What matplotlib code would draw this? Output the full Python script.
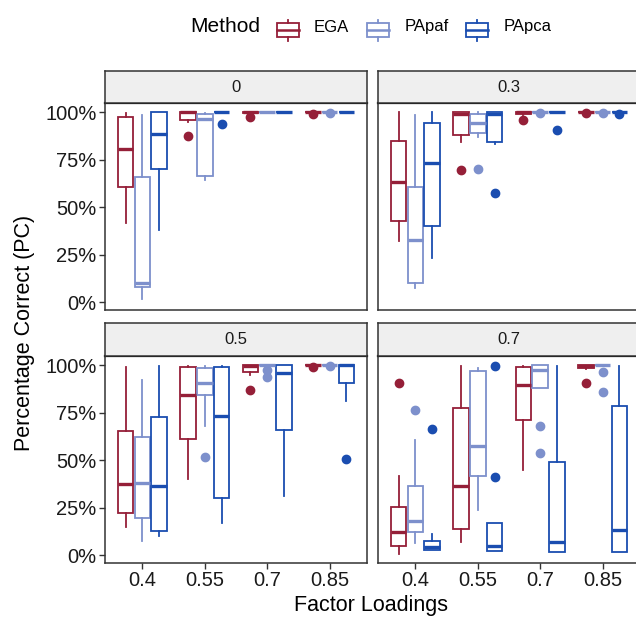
import numpy as np
import matplotlib.pyplot as plt
from matplotlib.patches import Rectangle

plt.rcParams['font.family'] = ['Liberation Sans', 'DejaVu Sans']

facets = ['0', '0.3', '0.5', '0.7']
loadings = ['0.4', '0.55', '0.7', '0.85']
methods = ['EGA', 'PApaf', 'PApca']
colors = ['#951f38', '#7d90cc', '#1a4db0']

# box stats: (whislo, q1, med, q3, whishi), facet x loading
ega_stats = [
    [(41.8, 60.6, 80.6, 97.4, 99.5), (94.7, 95.9, 100, 100, 100), (98.5, 99.3, 100, 100, 100), (100, 100, 100, 100, 100)],
    [(32.1, 42.7, 63.3, 85.0, 100), (84.4, 88.0, 99.0, 100, 100), (98.5, 99.0, 100, 100, 100), (100, 100, 100, 100, 100)],
    [(14.5, 22.3, 37.2, 65.1, 99.1), (39.8, 61.3, 84.3, 98.8, 99.5), (94.8, 96.5, 99.5, 100, 100), (100, 100, 100, 100, 100)],
    [(0.5, 4.5, 12.2, 25.5, 41.5), (6.6, 13.6, 36.3, 77.3, 99.5), (45.0, 71.2, 89.5, 99.0, 99.5), (98.0, 98.3, 99.7, 100, 100)],
]
ega_out = [
    [[], [87.5], [97.3], [99.0]],
    [[], [69.5], [95.6], [99.3]],
    [[], [], [86.9], [98.8]],
    [[90.4], [], [], [90.4]],
]

papaf_stats = [
    [(1.6, 7.7, 10.2, 65.6, 98.6), (64.2, 66.5, 96.3, 98.9, 99.5), (100, 100, 100, 100, 100), (100, 100, 100, 100, 100)],
    [(7.4, 9.9, 32.4, 60.6, 98.6), (87.1, 88.9, 94.2, 98.9, 100), (100, 100, 100, 100, 100), (100, 100, 100, 100, 100)],
    [(7.5, 19.4, 37.7, 61.9, 92.1), (68.1, 84.3, 90.7, 98.3, 99.5), (98.5, 100, 100, 100, 100), (100, 100, 100, 100, 100)],
    [(6.3, 12.2, 18.0, 36.3, 60.7), (23.7, 41.5, 57.6, 96.9, 98.3), (88.1, 88.1, 97.4, 100, 100), (100, 100, 100, 100, 100)],
]
papaf_out = [
    [[], [], [], [99.6]],
    [[], [69.8], [99.3], [99.6]],
    [[], [51.7], [97.3, 93.6], [99.4]],
    [[76.4], [], [68.1, 53.8], [96.2, 86.0]],
]

papca_stats = [
    [(37.7, 70.2, 88.4, 100, 100), (100, 100, 100, 100, 100), (100, 100, 100, 100, 100), (100, 100, 100, 100, 100)],
    [(23.1, 39.8, 73.3, 94.5, 100), (83.2, 84.1, 99.0, 100, 100), (100, 100, 100, 100, 100), (100, 100, 100, 100, 100)],
    [(10.1, 12.9, 36.3, 72.6, 99.5), (16.6, 30.0, 73.3, 99.1, 99.5), (31.0, 66.0, 96.0, 100, 100), (81.3, 90.4, 100, 100, 100)],
    [(2.8, 2.8, 4.0, 7.2, 11.0), (2.3, 2.3, 4.5, 16.6, 16.6), (1.4, 1.4, 7.0, 48.9, 99.5), (1.4, 1.4, 13.1, 78.7, 99.5)],
]
papca_out = [
    [[], [94.0], [], []],
    [[], [57.5], [90.6], [98.9]],
    [[], [], [], [50.6]],
    [[66.3], [99.5, 41.2], [], []],
]

all_stats = [ega_stats, papaf_stats, papca_stats]
all_out = [ega_out, papaf_out, papca_out]

W, H = 636, 620
fig = plt.figure(figsize=(W / 100, H / 100), dpi=100)


def rect(x0, y0, x1, y1):
    return [x0 / W, 1 - y1 / H, (x1 - x0) / W, (y1 - y0) / H]


cols = [(105, 367), (378, 640)]
rows = [(71, 103, 310), (323, 356, 563)]
offsets = [-0.27, 0.0, 0.27]
grey = '#333333'

for f in range(4):
    r, c = divmod(f, 2)
    x0, x1 = cols[c]
    s0, p0, p1 = rows[r]

    ax = fig.add_axes(rect(x0, p0, x1, p1))
    for m in range(3):
        col = colors[m]
        stats = []
        for k in range(4):
            lo, q1, med, q3, hi = all_stats[m][f][k]
            stats.append(dict(whislo=lo, q1=q1, med=med, q3=q3, whishi=hi,
                              fliers=all_out[m][f][k]))
        ax.bxp(stats, positions=np.arange(1, 5) + offsets[m], widths=0.25,
               showcaps=False, patch_artist=True, manage_ticks=False,
               boxprops=dict(facecolor='white', edgecolor=col, linewidth=1.3),
               whiskerprops=dict(color=col, linewidth=1.3),
               medianprops=dict(color=col, linewidth=2.4),
               flierprops=dict(marker='o', markerfacecolor=col, markeredgecolor=col,
                               markersize=6))
    ax.set_xlim(0.4, 4.6)
    ax.set_ylim(-4.2, 104.8)
    for sp in ax.spines.values():
        sp.set_color(grey)
        sp.set_linewidth(1.1)
    ax.spines['top'].set_color('black')
    ax.spines['top'].set_linewidth(1.6)
    ax.set_xticks(np.arange(1, 5))
    ax.set_yticks([0, 25, 50, 75, 100])
    ax.tick_params(length=4, width=1, color=grey, labelsize=14.5, labelcolor='#1a1a1a', pad=2)
    if c == 0:
        ax.set_yticklabels(['0%', '25%', '50%', '75%', '100%'])
    else:
        ax.tick_params(axis='y', length=0, labelleft=False)
    if r == 1:
        ax.set_xticklabels(loadings)
    else:
        ax.tick_params(axis='x', length=0, labelbottom=False)

    sax = fig.add_axes(rect(x0, s0, x1, p0))
    sax.set_facecolor('#efefef')
    sax.set_xticks([])
    sax.set_yticks([])
    for sp in sax.spines.values():
        sp.set_color(grey)
        sp.set_linewidth(1.1)
    sax.text(0.5, 0.5, facets[f], ha='center', va='center', fontsize=12,
             color='#1a1a1a', transform=sax.transAxes)

fig.text(25 / W, 1 - 333 / H, 'Percentage Correct (PC)', rotation=90,
         ha='center', va='center', fontsize=15.5)
fig.text(371 / W, 1 - 606 / H, 'Factor Loadings', ha='center', va='center',
         fontsize=15.5)

# legend drawn in pixel space
lax = fig.add_axes([0, 0, 1, 1])
lax.set_xlim(0, W)
lax.set_ylim(H, 0)
lax.axis('off')
lax.text(190, 27, 'Method', ha='left', va='center', fontsize=15)
key_x = [277, 367, 466]
lab_x = [314, 405, 504]
for m in range(3):
    kx = key_x[m]
    col = colors[m]
    lax.add_patch(Rectangle((kx, 23), 22, 14, facecolor='white', edgecolor=col, linewidth=1.3))
    lax.plot([kx, kx + 22], [30, 30], color=col, linewidth=1.8)
    lax.plot([kx + 11, kx + 11], [19.5, 23], color=col, linewidth=1.3)
    lax.plot([kx + 11, kx + 11], [37, 40.5], color=col, linewidth=1.3)
    lax.text(lab_x[m], 27, methods[m], ha='left', va='center', fontsize=12)

fig.savefig('out.png', dpi=100)
